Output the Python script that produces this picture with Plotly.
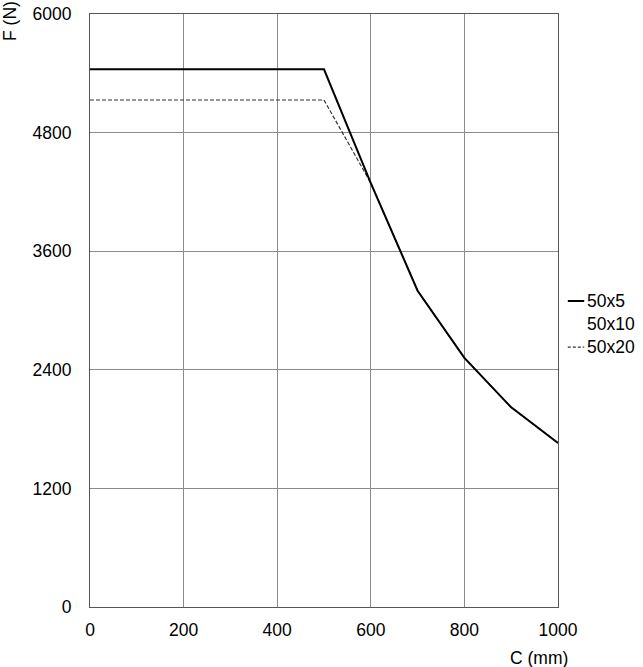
import plotly.graph_objects as go

# Data
c_mm = [0, 500, 600, 700, 800, 900, 1000]
f_50x5 = [5440, 5440, 4290, 3200, 2520, 2020, 1660]
f_50x10 = [5440, 5440, 4290, 3200, 2520, 2020, 1660]
f_50x20 = [5130, 5130, 4290, 3200, 2520, 2020, 1660]
series_names = ["50x5", "50x10", "50x20"]
x_ticks = [0, 200, 400, 600, 800, 1000]
y_ticks = [0, 1200, 2400, 3600, 4800, 6000]

FONT = "Liberation Sans, Arial, sans-serif"
FS = 17.5

fig = go.Figure()
fig.add_trace(go.Scatter(x=c_mm, y=f_50x10, mode="lines", name=series_names[1],
                         line=dict(color="rgba(0,0,0,0)", width=1.5), showlegend=False))
fig.add_trace(go.Scatter(x=c_mm, y=f_50x20, mode="lines", name=series_names[2],
                         line=dict(color="#333333", width=1.2, dash="4px,2px"), showlegend=False))
fig.add_trace(go.Scatter(x=c_mm, y=f_50x5, mode="lines", name=series_names[0],
                         line=dict(color="black", width=2), showlegend=False))

# Manual legend (line samples + labels)
leg_styles = [dict(color="black", width=2, dash="solid"), None,
              dict(color="#333333", width=1.2, dash="3px,2px")]
for i, (nm, st) in enumerate(zip(series_names, leg_styles)):
    yp = 0.516 - i * 0.0388
    if st is not None:
        fig.add_shape(type="line", xref="paper", yref="paper",
                      x0=1.021, x1=1.056, y0=yp, y1=yp, line=st)
    fig.add_annotation(x=1.058, y=yp, xref="paper", yref="paper", text=nm,
                       showarrow=False, xanchor="left", yanchor="middle",
                       font=dict(size=FS, color="black", family=FONT))

fig.add_annotation(x=-0.171, y=0.9882, xref="paper", yref="paper", text="F (N)",
                   textangle=-90, showarrow=False, xanchor="center", yanchor="middle",
                   font=dict(size=FS, color="black", family=FONT))
fig.add_annotation(x=0.893, y=-0.066, xref="paper", yref="paper", text="C (mm)",
                   showarrow=False, xanchor="left", yanchor="top",
                   font=dict(size=FS, color="black", family=FONT))

fig.update_xaxes(range=[0, 1000], tickvals=x_ticks, ticktext=[str(v) for v in x_ticks],
                 showgrid=True, gridcolor="#8a8a8a", gridwidth=1,
                 showline=True, linecolor="#555555", linewidth=1, mirror=True,
                 zeroline=False, ticks="", ticklabelstandoff=7, ticklabeloverflow="allow",
                 automargin=False, fixedrange=True,
                 tickfont=dict(size=FS, color="black", family=FONT))
fig.update_yaxes(range=[0, 6000], tickvals=y_ticks, ticktext=[str(v) for v in y_ticks],
                 showgrid=True, gridcolor="#8a8a8a", gridwidth=1,
                 showline=True, linecolor="#555555", linewidth=1, mirror=True,
                 zeroline=False, ticks="", ticklabelstandoff=14, ticklabeloverflow="allow",
                 automargin=False, fixedrange=True,
                 tickfont=dict(size=FS, color="black", family=FONT))

fig.update_layout(width=643, height=667, margin=dict(l=90, r=85, t=14, b=60),
                  plot_bgcolor="white", paper_bgcolor="white", showlegend=False,
                  font=dict(family=FONT, color="black"))

fig.write_html("out.html", config={"displayModeBar": False},
               post_script="document.body.style.margin='0';")
